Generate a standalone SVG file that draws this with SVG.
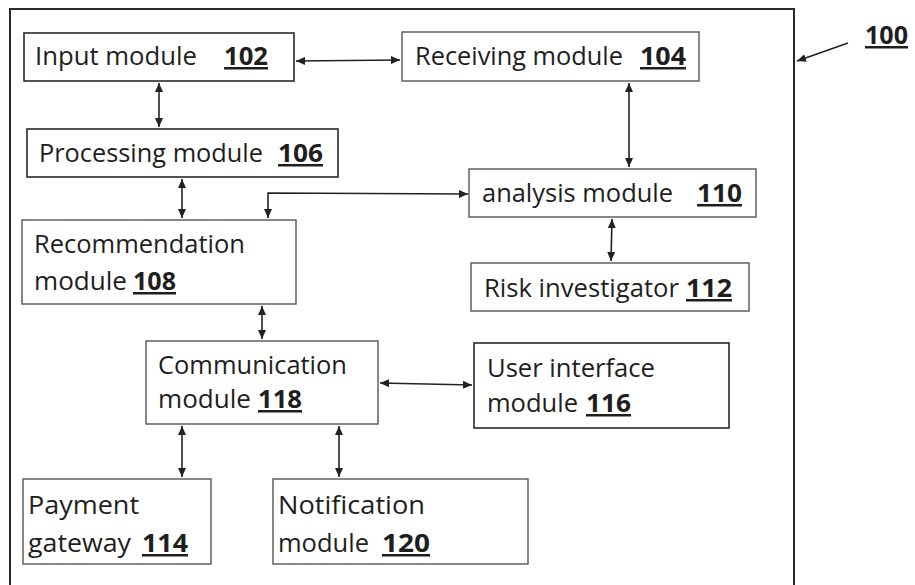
<svg xmlns="http://www.w3.org/2000/svg" width="915" height="585" viewBox="0 0 915 585">
<style>
.box{fill:#fff;stroke:#555;stroke-width:1.4}
.dark{stroke:#2a2a2a;stroke-width:1.6}
.t{font-family:"Open Sans","Liberation Sans",sans-serif;font-size:25px;fill:#1e1e1e}
.n{font-family:"Open Sans","Liberation Sans",sans-serif;font-size:25px;font-weight:bold;fill:#1e1e1e;text-decoration:underline}
.c{fill:none;stroke:#222;stroke-width:1.6}
</style>
<defs>
<marker id="ah" markerUnits="userSpaceOnUse" markerWidth="9" markerHeight="8" refX="9" refY="4" orient="auto-start-reverse">
<path d="M0,0 L9,4 L0,8 z" fill="#222"/>
</marker>
</defs>
<rect x="0" y="0" width="915" height="585" fill="#fff"/>
<g id="frame100">
<path d="M10,600 L10,9 L794,9 L794,600" fill="none" stroke="#2a2a2a" stroke-width="2"/>
<text class="n" x="865" y="44" textLength="43" lengthAdjust="spacingAndGlyphs">100</text>
</g>
<g id="connectors">
<line class="c" x1="296" y1="61" x2="400" y2="60" marker-start="url(#ah)" marker-end="url(#ah)"/>
<line class="c" x1="159" y1="83" x2="159" y2="127" marker-start="url(#ah)" marker-end="url(#ah)"/>
<line class="c" x1="629" y1="83" x2="629" y2="167" marker-start="url(#ah)" marker-end="url(#ah)"/>
<line class="c" x1="182" y1="179" x2="182" y2="218" marker-start="url(#ah)" marker-end="url(#ah)"/>
<path class="c" d="M268,218 L268,193 L468,194" marker-start="url(#ah)" marker-end="url(#ah)"/>
<line class="c" x1="612" y1="219" x2="611" y2="261" marker-start="url(#ah)" marker-end="url(#ah)"/>
<line class="c" x1="262" y1="306" x2="262" y2="339" marker-start="url(#ah)" marker-end="url(#ah)"/>
<line class="c" x1="380" y1="383" x2="472" y2="385" marker-start="url(#ah)" marker-end="url(#ah)"/>
<line class="c" x1="182" y1="426" x2="182" y2="477" marker-start="url(#ah)" marker-end="url(#ah)"/>
<line class="c" x1="339" y1="426" x2="339" y2="477" marker-start="url(#ah)" marker-end="url(#ah)"/>
<line class="c" x1="848" y1="43" x2="797" y2="61" marker-end="url(#ah)"/>
</g>
<g id="input102">
<rect class="box dark" x="24" y="33" width="270" height="48"/>
<text class="t" x="35" y="65" textLength="162" lengthAdjust="spacingAndGlyphs">Input module</text>
<text class="n" x="224" y="65" textLength="44" lengthAdjust="spacingAndGlyphs">102</text>
</g>
<g id="receiving104">
<rect class="box" x="402" y="32" width="297" height="49"/>
<text class="t" x="415" y="65" textLength="208" lengthAdjust="spacingAndGlyphs">Receiving module</text>
<text class="n" x="640" y="65" textLength="46" lengthAdjust="spacingAndGlyphs">104</text>
</g>
<g id="processing106">
<rect class="box dark" x="27" y="129" width="311" height="48"/>
<text class="t" x="39" y="162" textLength="224" lengthAdjust="spacingAndGlyphs">Processing module</text>
<text class="n" x="278" y="162" textLength="45" lengthAdjust="spacingAndGlyphs">106</text>
</g>
<g id="analysis110">
<rect class="box" x="469" y="169" width="287" height="48"/>
<text class="t" x="482" y="202" textLength="191" lengthAdjust="spacingAndGlyphs">analysis module</text>
<text class="n" x="697" y="202" textLength="45" lengthAdjust="spacingAndGlyphs">110</text>
</g>
<g id="recommendation108">
<rect class="box" x="22" y="220" width="274" height="84"/>
<text class="t" x="34" y="253" textLength="211" lengthAdjust="spacingAndGlyphs">Recommendation</text>
<text class="t" x="34" y="290" textLength="93" lengthAdjust="spacingAndGlyphs">module</text>
<text class="n" x="133" y="290" textLength="43" lengthAdjust="spacingAndGlyphs">108</text>
</g>
<g id="risk112">
<rect class="box" x="471" y="263" width="278" height="48"/>
<text class="t" x="484" y="297" textLength="195" lengthAdjust="spacingAndGlyphs">Risk investigator</text>
<text class="n" x="686" y="297" textLength="46" lengthAdjust="spacingAndGlyphs">112</text>
</g>
<g id="communication118">
<rect class="box" x="146" y="341" width="232" height="83"/>
<text class="t" x="158" y="374" textLength="189" lengthAdjust="spacingAndGlyphs">Communication</text>
<text class="t" x="158" y="408" textLength="93" lengthAdjust="spacingAndGlyphs">module</text>
<text class="n" x="258" y="408" textLength="44" lengthAdjust="spacingAndGlyphs">118</text>
</g>
<g id="userinterface116">
<rect class="box dark" x="474" y="343" width="255" height="85"/>
<text class="t" x="487" y="377" textLength="168" lengthAdjust="spacingAndGlyphs">User interface</text>
<text class="t" x="487" y="412" textLength="91" lengthAdjust="spacingAndGlyphs">module</text>
<text class="n" x="586" y="412" textLength="45" lengthAdjust="spacingAndGlyphs">116</text>
</g>
<g id="payment114">
<rect class="box" x="23" y="479" width="188" height="85"/>
<text class="t" x="28" y="514" textLength="111" lengthAdjust="spacingAndGlyphs">Payment</text>
<text class="t" x="28" y="552" textLength="103" lengthAdjust="spacingAndGlyphs">gateway</text>
<text class="n" x="142" y="552" textLength="46" lengthAdjust="spacingAndGlyphs">114</text>
</g>
<g id="notification120">
<rect class="box" x="273" y="479" width="255" height="85"/>
<text class="t" x="278" y="514" textLength="147" lengthAdjust="spacingAndGlyphs">Notification</text>
<text class="t" x="278" y="552" textLength="91" lengthAdjust="spacingAndGlyphs">module</text>
<text class="n" x="382" y="552" textLength="48" lengthAdjust="spacingAndGlyphs">120</text>
</g>
</svg>
